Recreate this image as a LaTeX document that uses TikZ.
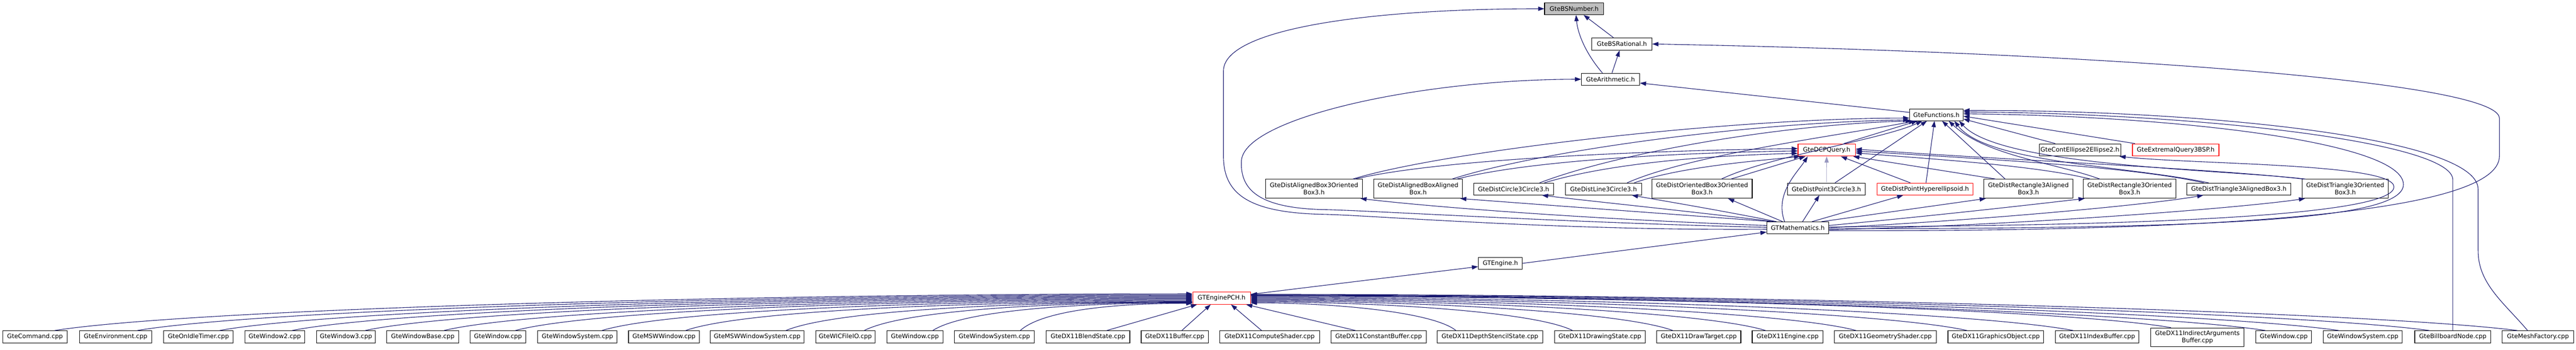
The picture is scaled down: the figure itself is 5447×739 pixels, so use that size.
\documentclass[tikz,border=0pt]{standalone}
\usepackage{fontspec}
\newfontfamily\dvs{DejaVu Sans}
\usetikzlibrary{arrows.meta}
\definecolor{mblue}{HTML}{191970}
\definecolor{rootgray}{HTML}{BFBFBF}
\tikzset{
  gbox/.style={draw=black, fill=white, line width=1.2pt, inner sep=0pt, font=\dvs\fontsize{13}{15}\selectfont, align=center, minimum height=26pt},
  tall/.style={minimum height=40pt},
  trunc/.style={draw=red},
  root/.style={fill=rootgray},
  edge/.style={draw=mblue, line width=1.2pt, -{Triangle[length=13pt,width=9pt]}},
}
\begin{document}
\begin{tikzpicture}[x=1pt,y=-1pt]
\fill[white] (0,0) rectangle (5447,739);
\useasboundingbox (0,0) rectangle (5447,739);
% upper nodes
\node[gbox, root, minimum width=125pt, minimum height=25pt] (bsn) at (3328.5,18.5) {GteBSNumber.h};
\node[gbox, minimum width=127pt] (bsr) at (3429.5,93) {GteBSRational.h};
\node[gbox, minimum width=123pt, minimum height=25pt] (ari) at (3405.5,167.5) {GteArithmetic.h};
\node[gbox, minimum width=113pt, minimum height=25pt] (fun) at (4094.5,242.5) {GteFunctions.h};
\node[gbox, trunc, minimum width=121pt] (dcp) at (3862.5,317) {GteDCPQuery.h};
\node[gbox, minimum width=172pt] (ell) at (4398,317) {GteContEllipse2Ellipse2.h};
\node[gbox, trunc, minimum width=183pt] (ext) at (4600.5,317) {GteExtremalQuery3BSP.h};
% dist row
\node[gbox, tall, minimum width=205pt] (d1) at (2778.5,399) {GteDistAlignedBox3Oriented\\Box3.h};
\node[gbox, tall, minimum width=187pt] (d2) at (2998.5,399) {GteDistAlignedBoxAligned\\Box.h};
\node[gbox, minimum width=169pt, minimum height=25pt] (d3) at (3200.5,399.5) {GteDistCircle3Circle3.h};
\node[gbox, minimum width=161pt, minimum height=25pt] (d4) at (3390.5,399.5) {GteDistLine3Circle3.h};
\node[gbox, tall, minimum width=212pt] (d5) at (3599,399) {GteDistOrientedBox3Oriented\\Box3.h};
\node[gbox, minimum width=164pt, minimum height=25pt] (d6) at (3862,399.5) {GteDistPoint3Circle3.h};
\node[gbox, trunc, minimum width=203pt, minimum height=25pt] (d7) at (4070.5,399.5) {GteDistPointHyperellipsoid.h};
\node[gbox, tall, minimum width=188pt] (d8) at (4289,399) {GteDistRectangle3Aligned\\Box3.h};
\node[gbox, tall, minimum width=196pt] (d9) at (4503,399) {GteDistRectangle3Oriented\\Box3.h};
\node[gbox, minimum width=220pt, minimum height=25pt] (d10) at (4734,399.5) {GteDistTriangle3AlignedBox3.h};
\node[gbox, tall, minimum width=182pt] (d11) at (4959,399) {GteDistTriangle3Oriented\\Box3.h};
\node[gbox, minimum width=131pt, minimum height=25pt] (math) at (3801.5,481.5) {GTMathematics.h};
\node[gbox, minimum width=93pt, minimum height=25pt] (eng) at (3172.5,556.5) {GTEngine.h};
\node[gbox, trunc, minimum width=122pt] (pch) at (2583,630) {GTEnginePCH.h};
% bottom row
\node[gbox, minimum width=136pt] (b1) at (74,712) {GteCommand.cpp};
\node[gbox, minimum width=153pt] (b2) at (244.5,712) {GteEnvironment.cpp};
\node[gbox, minimum width=147pt] (b3) at (419.5,712) {GteOnIdleTimer.cpp};
\node[gbox, minimum width=126pt] (b4) at (581,712) {GteWindow2.cpp};
\node[gbox, minimum width=125pt] (b5) at (731.5,712) {GteWindow3.cpp};
\node[gbox, minimum width=152pt] (b6) at (894,712) {GteWindowBase.cpp};
\node[gbox, minimum width=118pt] (b7) at (1053,712) {GteWindow.cpp};
\node[gbox, minimum width=168pt] (b8) at (1221,712) {GteWindowSystem.cpp};
\node[gbox, minimum width=150pt] (b9) at (1404,712) {GteMSWWindow.cpp};
\node[gbox, minimum width=198pt] (b10) at (1601,712) {GteMSWWindowSystem.cpp};
\node[gbox, minimum width=125pt] (b11) at (1787.5,712) {GteWICFileIO.cpp};
\node[gbox, minimum width=119pt] (b12) at (1934.5,712) {GteWindow.cpp};
\node[gbox, minimum width=169pt] (b13) at (2102.5,712) {GteWindowSystem.cpp};
\node[gbox, minimum width=177pt] (b14) at (2300.5,712) {GteDX11BlendState.cpp};
\node[gbox, minimum width=142pt] (b15) at (2484,712) {GteDX11Buffer.cpp};
\node[gbox, minimum width=211pt] (b16) at (2684.5,712) {GteDX11ComputeShader.cpp};
\node[gbox, minimum width=202pt] (b17) at (2915,712) {GteDX11ConstantBuffer.cpp};
\node[gbox, minimum width=223pt] (b18) at (3150.5,712) {GteDX11DepthStencilState.cpp};
\node[gbox, minimum width=192pt] (b19) at (3383,712) {GteDX11DrawingState.cpp};
\node[gbox, minimum width=178pt] (b20) at (3592,712) {GteDX11DrawTarget.cpp};
\node[gbox, minimum width=150pt] (b21) at (3780,712) {GteDX11Engine.cpp};
\node[gbox, minimum width=215pt] (b22) at (3986.5,712) {GteDX11GeometryShader.cpp};
\node[gbox, minimum width=202pt] (b23) at (4220,712) {GteDX11GraphicsObject.cpp};
\node[gbox, minimum width=177pt] (b24) at (4434.5,712) {GteDX11IndexBuffer.cpp};
\node[gbox, tall, minimum width=197pt] (b25) at (4646.5,713) {GteDX11IndirectArguments\\Buffer.cpp};
\node[gbox, minimum width=118pt] (b26) at (4829,712) {GteWindow.cpp};
\node[gbox, minimum width=166pt] (b27) at (4996,712) {GteWindowSystem.cpp};
\node[gbox, minimum width=161pt] (bb) at (5186.5,712) {GteBillboardNode.cpp};
\node[gbox, minimum width=151pt] (mesh) at (5366.5,712) {GteMeshFactory.cpp};
% bottom edges
\foreach \n/\s/\a/\c/\e in {b1/42/290/-960/9, b2/46/270/-890/7, b3/45/250/-820/5, b4/37/230/-760/3, b5/41/210/-700/1, b6/45/190/-630/-1, b7/37/170/-570/-3, b8/52/150/-500/-5, b9/46/130/-430/-7, b10/61/110/-340/-8, b11/40/90/-280/-9, b12/38/70/-220/-10, b13/55/50/-150/-11}
  {\draw[edge] ([xshift=\s pt]\n.north) .. controls +(\a,-45) and +(\c,0) .. ([yshift=\e pt]pch.west);}
\draw[edge] ([xshift=40pt]b14.north) -- ([xshift=-52pt]pch.south);
\draw[edge] ([xshift=15pt]b15.north) -- ([xshift=-23pt]pch.south);
\draw[edge] ([xshift=-17pt]b16.north) -- ([xshift=20pt]pch.south);
\draw[edge] ([xshift=-49pt]b17.north) -- ([xshift=52pt]pch.south);
\foreach \n/\s/\a/\c/\e in {b18/-72/-50/170/-10, b19/-58/-80/270/-8, b20/-55/-110/350/-6, b21/-47/-130/430/-4, b22/-62/-150/510/-2, b23/-61/-180/600/0, b24/-51/-210/700/2, b25/-56/-230/780/4, b26/-39/-260/860/5, b27/-51/-280/920/6, bb/-50/-300/1000/7, mesh/-44/-320/1070/8}
  {\draw[edge] ([xshift=\s pt]\n.north) .. controls +(\a,-40) and +(\c,0) .. ([yshift=\e pt]pch.east);}
% engine chain
\draw[edge] ([yshift=8pt]pch.east) -- ([yshift=-7pt]eng.west);
\draw[edge] (eng.east) -- ([yshift=-9pt]math.west);
% top
\draw[edge] ([xshift=-18pt]bsr.north) -- ([xshift=20pt]bsn.south);
\draw[edge] ([xshift=-17pt]ari.north) .. controls (3352,112) and (3336,70) .. ([xshift=4pt]bsn.south);
\draw[edge] ([xshift=3pt]ari.north) -- ([xshift=-5pt]bsr.south);
\draw[edge] ([yshift=5pt]fun.west) -- ([yshift=-8pt]ari.east);
% loops from GTMathematics
\draw[edge] ([yshift=-3pt]math.west) .. controls (3300,488) and (2900,455) .. (2800,453) .. controls (2640,450) and (2587,410) .. (2587,330) -- (2587,150) .. controls (2587,60) and (2900,18.5) .. (bsn.west);
\draw[edge] ([yshift=1pt]math.west) .. controls (3300,470) and (2900,445) .. (2800,443) .. controls (2660,440) and (2622,400) .. (2625,340) .. controls (2630,250) and (3000,168) .. (ari.west);
\draw[edge] ([yshift=-6pt]math.east) .. controls (4700,490) and (5285,450) .. (5285,330) -- (5285,250) .. controls (5285,170) and (4400,110) .. (bsr.east);
\draw[edge] ([yshift=-2pt]math.east) .. controls (4700,483) and (5082,465) .. (5082,390) .. controls (5082,300) and (4600,245) .. ([yshift=2pt]fun.east);
\draw[edge] ([yshift=2pt]math.east) .. controls (4700,477) and (5062,445) .. (5062,395) .. controls (5062,345) and (4650,348) .. ([xshift=-3pt]ell.south east);
\draw[edge] (bb.north) -- (5186.5,380) .. controls (5186.5,300) and (4650,240) .. ([yshift=6pt]fun.east);
\draw[edge] ([xshift=-22pt]mesh.north) .. controls (5295,640) and (5240,600) .. (5240,530) -- (5240,400) .. controls (5240,290) and (4650,232) .. ([yshift=9pt]fun.east);
% into GteFunctions
\draw[edge] ([xshift=36pt]dcp.north) -- ([xshift=-40pt]fun.south);
\draw[edge] ([xshift=-52pt]ell.north) -- ([yshift=-9pt]fun.east);
\draw[edge] ([xshift=-86pt]ext.north) -- ([yshift=-3pt]fun.east);
\draw[edge] ([xshift=82pt]d1.north) .. controls (3050,320) and (3650,250) .. ([yshift=-7pt]fun.west);
\draw[edge] ([xshift=72pt]d2.north) .. controls (3250,320) and (3700,258) .. ([yshift=-11pt]fun.west);
\draw[edge] ([xshift=55pt]d3.north) .. controls (3430,320) and (3780,262) .. ([xshift=5pt]fun.south west);
\draw[edge] ([xshift=50pt]d4.north) .. controls (3580,325) and (3900,285) .. ([xshift=-45pt]fun.south);
\draw[edge] ([xshift=41pt]d5.north) .. controls (3740,330) and (3980,295) .. ([xshift=-30pt]fun.south);
\draw[edge] ([xshift=18pt]d6.north) -- ([xshift=-20pt]fun.south);
\draw[edge] ([xshift=2pt]d7.north) -- ([xshift=-4pt]fun.south);
\draw[edge] ([xshift=-49pt]d8.north) -- ([xshift=12pt]fun.south);
\draw[edge] ([xshift=-63pt]d9.north) .. controls (4350,345) and (4200,330) .. ([xshift=26pt]fun.south);
\draw[edge] ([xshift=-64pt]d10.north) .. controls (4500,350) and (4200,345) .. ([xshift=38pt]fun.south);
\draw[edge] ([xshift=-84pt]d11.north) .. controls (4700,358) and (4230,352) .. ([xshift=48pt]fun.south);
% into GteDCPQuery
\draw[edge] ([xshift=87pt]d1.north) .. controls (3050,335) and (3500,318) .. ([yshift=3pt]dcp.west);
\draw[edge] ([xshift=82pt]d2.north) .. controls (3250,335) and (3600,322) .. ([yshift=-2pt]dcp.west);
\draw[edge] ([xshift=65pt]d3.north) .. controls (3420,340) and (3650,328) .. ([yshift=-7pt]dcp.west);
\draw[edge] ([xshift=65pt]d4.north) .. controls (3560,350) and (3740,338) .. ([xshift=5pt]dcp.south west);
\draw[edge] ([xshift=61pt]d5.north) -- ([xshift=-45pt]dcp.south);
\draw[edge, draw=mblue!45, line width=0.8pt] (d6.north) -- (dcp.south);
\draw[edge] ([xshift=-31pt]d7.north) -- ([xshift=30pt]dcp.south);
\draw[edge] ([xshift=-69pt]d8.north) -- ([xshift=-5pt]dcp.south east);
\draw[edge] ([xshift=-83pt]d9.north) .. controls (4300,348) and (4050,334) .. ([yshift=-6pt]dcp.east);
\draw[edge] ([xshift=-74pt]d10.north) .. controls (4500,350) and (4150,334) .. ([yshift=-2pt]dcp.east);
\draw[edge] ([xshift=-89pt]d11.north) .. controls (4680,356) and (4200,336) .. ([yshift=2pt]dcp.east);
% from GTMathematics to the dist row
\draw[edge] ([yshift=5pt]math.west) .. controls (3400,465) and (3050,440) .. ([xshift=-5pt]d1.south east);
\draw[edge] ([xshift=-55pt]math.north) .. controls (3500,450) and (3250,432) .. ([xshift=-5pt]d2.south east);
\draw[edge] ([xshift=-50pt]math.north) .. controls (3560,445) and (3360,425) .. ([xshift=60pt]d3.south);
\draw[edge] ([xshift=-45pt]math.north) .. controls (3640,445) and (3520,425) .. ([xshift=60pt]d4.south);
\draw[edge] ([xshift=-32pt]math.north) -- ([xshift=55pt]d5.south);
\draw[edge] ([xshift=10pt]math.north) -- ([xshift=-15pt]d6.south);
\draw[edge] ([xshift=30pt]math.north) -- ([xshift=-46pt]d7.south);
\draw[edge] ([xshift=50pt]math.north) -- ([xshift=-90pt]d8.south);
\draw[edge] ([yshift=5pt]math.east) .. controls (4100,455) and (4300,432) .. ([xshift=-95pt]d9.south);
\draw[edge] (math.east) .. controls (4200,465) and (4550,432) .. ([xshift=-75pt]d10.south);
\draw[edge] ([yshift=-4pt]math.east) .. controls (4300,475) and (4750,438) .. ([xshift=-85pt]d11.south);
\draw[edge] ([xshift=-28pt]math.north) .. controls (3752,410) and (3800,365) .. ([xshift=-40pt]dcp.south);
\end{tikzpicture}
\end{document}
